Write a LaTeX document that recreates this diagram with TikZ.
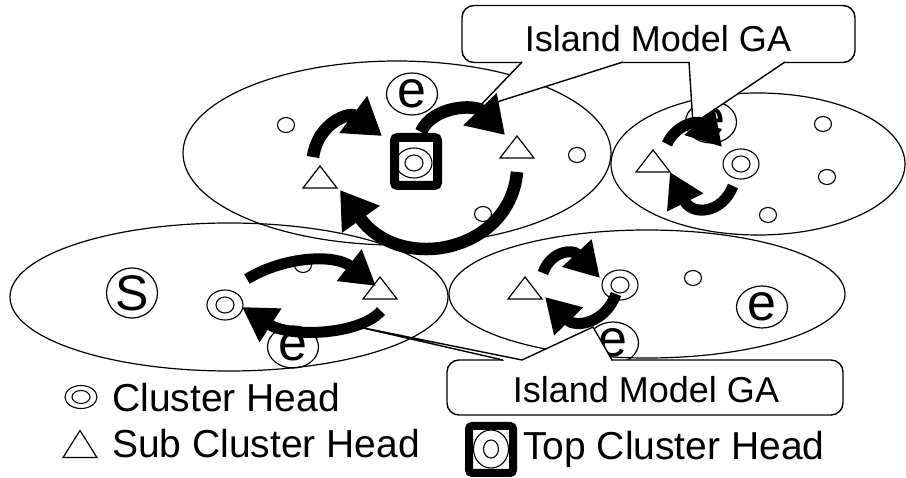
\documentclass[tikz,border=0pt]{standalone}
\usepackage{fontspec}
\setmainfont{Liberation Sans}
\usetikzlibrary{arrows.meta,shapes.geometric}

\tikzset{
  island/.style={line width=1.2pt},
  sensor/.style={draw,ellipse,line width=1.1pt,minimum width=17pt,minimum height=15pt,inner sep=0pt},
  hcore/.style={sensor,minimum width=18pt,minimum height=16pt},
  chead/.style={draw,ellipse,line width=1.1pt,minimum width=36pt,minimum height=30pt,inner sep=0pt},
  ring/.style={draw,ellipse,line width=1.2pt,minimum width=51pt,minimum height=42pt,inner sep=0pt,font=\fontsize{52}{52}\selectfont},
  topframe/.style={draw,line width=9pt,rounded corners=3pt,minimum width=43pt,minimum height=48pt,inner sep=0pt},
  migrate/.style={line width=11pt,-{Triangle[length=34pt,width=38pt]}},
  bigmigrate/.style={line width=12.5pt,-{Triangle[length=36pt,width=44pt]}},
  balloon/.style={draw,fill=white,line width=1.4pt,rounded corners=12pt,inner sep=0pt},
  gatext/.style={font=\fontsize{36}{36}\selectfont,anchor=base,inner sep=0pt},
  legendtext/.style={font=\fontsize{39}{39}\selectfont,anchor=base west,inner sep=0pt},
  subhead/.pic={\draw[line width=1.2pt,fill=white] (-17,11) -- (17,11) -- (0,-11) -- cycle;}
}

\begin{document}
\begin{tikzpicture}[x=1pt,y=-1pt]
\useasboundingbox (0,0) rectangle (906,478);

% the four islands
\draw[island] (397,153) ellipse [x radius=214pt, y radius=92pt];
\draw[island] (758,164) ellipse [x radius=147pt, y radius=71pt];
\draw[island] (229,297) ellipse [x radius=219pt, y radius=74pt];
\draw[island] (647,294) ellipse [x radius=198pt, y radius=64pt];

% plain nodes
\node[sensor] (n1) at (286,125) {};
\node[sensor] (n2) at (577,155) {};
\node[sensor] (n3) at (483,214) {};
\node[sensor] (n4) at (823,124) {};
\node[sensor] (n5) at (827,177) {};
\node[sensor] (n6) at (768,215) {};
\node[sensor] (n7) at (303,265) {};
\node[sensor] (n8) at (693,278) {};

% cluster heads
\node[chead] (h1) at (414,163) {}; \node[hcore] (h1c) at (h1) {};
\node[chead] (h2) at (741,164) {}; \node[hcore] (h2c) at (h2) {};
\node[chead] (h3) at (225,305) {}; \node[hcore] (h3c) at (h3) {};
\node[chead] (h4) at (620,285) {}; \node[hcore] (h4c) at (h4) {};
\node[topframe] (top) at (416,161.5) {};

% sub cluster heads
\coordinate (s1) at (320,177); \pic at (s1) {subhead};
\coordinate (s2) at (517,147); \pic at (s2) {subhead};
\coordinate (s3) at (653,161); \pic at (s3) {subhead};
\coordinate (s4) at (380,288); \pic at (s4) {subhead};
\coordinate (s5) at (525,288); \pic at (s5) {subhead};

% start and end points
\node[ring] (e1) at (412,94) {e};
\node[ring] (e2) at (711,122) {e};
\node[ring,font=\fontsize{50}{50}\selectfont] (st) at (132,293) {S};
\node[ring] (e3) at (293,347) {e};
\node[ring] (e4) at (762,307) {e};
\node[ring] (e5) at (613,343) {e};

% callouts
\node[balloon,minimum width=393pt,minimum height=57pt] (ga1) at (658.5,34) {};
\fill[white] (522,62) -- (478,108) -- (623,62) -- cycle;
\fill[white] (689,62) -- (693,124) -- (785,62) -- cycle;
\draw[white,line width=2pt] (523,62) -- (622,62) (690,62) -- (784,62);
\draw[line width=1.4pt] (522,62) -- (478,108) -- (623,62) (689,62) -- (693,124) -- (785,62);
\node[gatext] (ga1t) at (658,52) {Island Model GA};

\node[balloon,minimum width=396pt,minimum height=55pt] (ga2) at (645,387.5) {};
\fill[white] (503,360) -- (354,326) -- (522,360) -- (593,327) -- (612,360) -- cycle;
\draw[white,line width=2pt] (504,360) -- (611,360);
\draw[line width=1.4pt] (503,360) -- (354,326) -- (522,360) -- (593,327) -- (612,360);
\node[gatext] (ga2t) at (646,403) {Island Model GA};

% migration arrows
\coordinate (a1) at (313,157); \coordinate (a1e) at (382,136);
\coordinate (a2) at (421,132); \coordinate (a2e) at (505,135);
\coordinate (a3) at (517,172); \coordinate (a3e) at (340,190);
\draw[bigmigrate] (a1) .. controls (318,122) and (350,112) .. (a1e);
\draw[bigmigrate] (a2) .. controls (432,106) and (475,104) .. (a2e);
\draw[bigmigrate] (a3) .. controls (510,252) and (400,274) .. (a3e);

\coordinate (b1) at (667,144); \coordinate (b1e) at (722,147);
\coordinate (b2) at (733,186); \coordinate (b2e) at (670,172);
\draw[migrate] (b1) .. controls (676,124) and (698,120) .. (b1e);
\draw[migrate] (b2) .. controls (722,214) and (692,216) .. (b2e);

\coordinate (c1) at (247,279); \coordinate (c1e) at (376,286);
\coordinate (c2) at (381,311); \coordinate (c2e) at (242,307);
\draw[migrate] (c1) .. controls (285,256) and (335,254) .. (c1e);
\draw[migrate] (c2) .. controls (360,335) and (290,338) .. (c2e);

\coordinate (d1) at (543,273); \coordinate (d1e) at (600,278);
\coordinate (d2) at (616,294); \coordinate (d2e) at (545,297);
\draw[migrate] (d1) .. controls (550,252) and (572,248) .. (d1e);
\draw[migrate] (d2) .. controls (605,324) and (575,328) .. (d2e);

% legend
\node[chead,minimum width=32pt,minimum height=23pt] (lh) at (81,397) {};
\node[hcore,minimum height=13pt] (lhc) at (lh) {};
\node[legendtext] (lht) at (112,412) {Cluster Head};
\coordinate (ls) at (80,444); \pic[yscale=1.23] at (ls) {subhead};
\node[legendtext] (lst) at (112,458) {Sub Cluster Head};
\node[chead,minimum width=35pt,minimum height=38pt] (lt) at (491,449) {};
\node[hcore,minimum width=15pt,minimum height=18pt] (ltc) at (lt) {};
\node[topframe,line width=8pt,minimum width=44pt,minimum height=47pt] (ltf) at (491,449.5) {};
\node[legendtext] (ltt) at (523,460) {Top Cluster Head};
\end{tikzpicture}
\end{document}
